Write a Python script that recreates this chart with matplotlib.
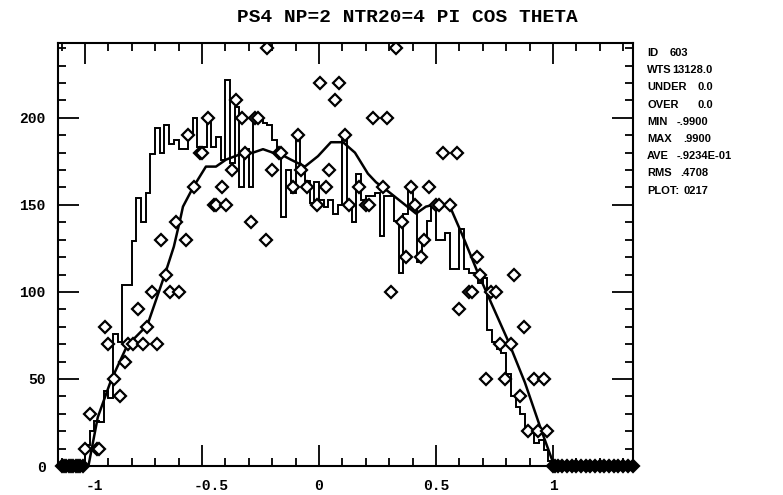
import numpy as np
import matplotlib.pyplot as plt
from matplotlib.ticker import MultipleLocator
from matplotlib.transforms import ScaledTranslation

TITLE = "PS4 NP=2 NTR20=4 PI COS THETA"

# histogram: 100 bins from -1 to 1
bin_lo, bin_hi, n_bins = -1.0, 1.0, 100
hist_counts = [
    12, 20, 26, 25, 43, 39, 76, 71, 104, 104,
    129, 154, 140, 157, 179, 194, 180, 196, 185, 187,
    182, 182, 191, 200, 183, 183, 200, 183, 189, 176,
    222, 174, 206, 160, 182, 160, 200, 200, 197, 196,
    187, 180, 143, 170, 157, 189, 172, 164, 151, 163,
    153, 149, 153, 145, 150, 187, 151, 140, 168, 153,
    155, 155, 157, 132, 155, 155, 141, 111, 145, 160,
    149, 117, 130, 141, 149, 130, 130, 134, 113, 113,
    136, 113, 111, 111, 105, 108, 78, 71, 67, 65,
    53, 40, 34, 30, 21, 19, 13, 15, 9, 3,
]

# smooth curve
curve_x = [-0.985, -0.945, -0.889, -0.82, -0.733, -0.656, -0.62, -0.594, -0.581,
           -0.538, -0.483, -0.44, -0.397, -0.338, -0.282, -0.239, -0.197, -0.162,
           -0.12, -0.06, -0.004, 0.051, 0.103, 0.154, 0.209, 0.244, 0.303, 0.359,
           0.415, 0.457, 0.517, 0.56, 0.615, 0.679, 0.735, 0.808, 0.88, 0.949,
           0.995, 1.01]
curve_y = [0, 28, 49, 69, 81, 111, 126, 141, 149,
           160, 172, 172, 176, 179, 180, 182, 180, 179,
           176, 172, 178, 186, 186, 180, 168, 163, 157, 151,
           145, 149, 151, 149, 132, 111, 94, 72, 48, 21,
           4, 0]

# diamond data points
pts_x = [-1.00, -0.98, -0.95, -0.94, -0.915, -0.90, -0.875, -0.85, -0.83, -0.815,
         -0.795, -0.775, -0.75, -0.735, -0.715, -0.69, -0.675, -0.655, -0.635, -0.61,
         -0.60, -0.57, -0.56, -0.535, -0.51, -0.50, -0.475, -0.45, -0.44, -0.415,
         -0.395, -0.37, -0.355, -0.33, -0.315, -0.29, -0.275, -0.26, -0.225, -0.22,
         -0.20, -0.17, -0.16, -0.11, -0.09, -0.075, -0.05, -0.01, 0.005, 0.03,
         0.045, 0.07, 0.085, 0.11, 0.13, 0.17, 0.20, 0.215, 0.23, 0.275,
         0.29, 0.31, 0.33, 0.355, 0.37, 0.395, 0.41, 0.435, 0.45, 0.47,
         0.50, 0.515, 0.53, 0.56, 0.59, 0.60, 0.64, 0.655, 0.675, 0.69,
         0.715, 0.735, 0.755, 0.775, 0.795, 0.82, 0.835, 0.86, 0.875, 0.895,
         0.92, 0.935, 0.96, 0.975]
pts_y = [10, 30, 10, 10, 80, 70, 50, 40, 60, 70,
         70, 90, 70, 80, 100, 70, 130, 110, 100, 140,
         100, 130, 190, 160, 180, 180, 200, 150, 150, 160,
         150, 170, 210, 200, 180, 140, 200, 200, 130, 240,
         170, 180, 180, 160, 190, 170, 160, 150, 220, 160,
         170, 210, 220, 190, 150, 160, 150, 150, 200, 160,
         200, 100, 240, 140, 120, 160, 150, 120, 130, 160,
         150, 150, 180, 150, 180, 90, 100, 100, 120, 110,
         50, 100, 100, 70, 50, 70, 110, 40, 80, 20,
         50, 20, 50, 20]

# points sitting at zero outside the range
zero_x = [-1.10, -1.09, -1.08, -1.07, -1.06, -1.05, -1.04, -1.03, -1.02, -1.01,
          1.00, 1.01, 1.02, 1.04, 1.06, 1.08, 1.10, 1.12, 1.14, 1.16, 1.18,
          1.20, 1.22, 1.24, 1.26, 1.28, 1.30, 1.32, 1.34]
zero_y = [0] * len(zero_x)

xticks = [-1, -0.5, 0, 0.5, 1]
xtick_labels = ["-1", "-0.5", "0", "0.5", "1"]
yticks = [0, 50, 100, 150, 200]

stat_labels = ["ID", "WTS", "UNDER", "OVER", "MIN", "MAX", "AVE", "RMS", "PLOT:"]
stat_values = ["603", "13128.0", "0.0", "0.0", "-.9900", ".9900", "-.9234E-01", ".4708", "0217"]
stat_value_px = [670, 672, 697, 697, 677, 683, 677, 680, 683]

W, H = 783, 495
fig = plt.figure(figsize=(W / 100, H / 100), dpi=100)
ax = fig.add_axes([58 / W, 1 - 466 / H, (633 - 58) / W, (466 - 43) / H])

edges = np.linspace(bin_lo, bin_hi, n_bins + 1)
ax.stairs(hist_counts, edges, baseline=0, color="black", lw=1.4)
ax.plot(curve_x, curve_y, color="black", lw=1.8)
ax.plot(pts_x, pts_y, ls="none", marker="D", ms=6, mfc="white", mec="black", mew=1.6)
ax.plot(zero_x, zero_y, ls="none", marker="D", ms=6, mfc="black", mec="black",
        mew=1.6, clip_on=False)

ax.set_xlim(-1.115, 1.342)
ax.set_ylim(0, 243)

tick_font = {"family": "Liberation Mono", "weight": "bold", "size": 10.5}
ax.set_xticks(xticks)
ax.set_xticklabels(xtick_labels, fontdict=tick_font)
ax.set_yticks(yticks)
ax.set_yticklabels([str(v) for v in yticks], fontdict=tick_font)
ax.xaxis.set_minor_locator(MultipleLocator(0.1))
ax.yaxis.set_minor_locator(MultipleLocator(10))
ax.tick_params(which="both", direction="in", top=True, right=True, width=1.3, color="black")
ax.tick_params(which="major", length=15)
ax.tick_params(which="minor", length=6)
ax.tick_params(axis="x", which="major", pad=9)
ax.tick_params(axis="y", which="major", pad=9)
for sp in ax.spines.values():
    sp.set_linewidth(1.5)

# negative labels sit a little to the right in the original
for lbl in ax.get_xticklabels():
    if lbl.get_text().startswith("-"):
        lbl.set_transform(lbl.get_transform() + ScaledTranslation(9 / 100, 0, fig.dpi_scale_trans))

fig.text(407 / W, 1 - 17 / H, TITLE, ha="center", va="center",
         family="Liberation Mono", weight="bold", size=14)

for i, (lab, val) in enumerate(zip(stat_labels, stat_values)):
    yy = 1 - (53 + 17.2 * i) / H
    fig.text(647 / W, yy, lab, ha="left", va="center",
             family="Liberation Sans", weight="bold", size=8)
    fig.text(stat_value_px[i] / W, yy, val, ha="left", va="center",
             family="Liberation Sans", weight="bold", size=8)

fig.savefig("out.png", dpi=100, facecolor="white")
